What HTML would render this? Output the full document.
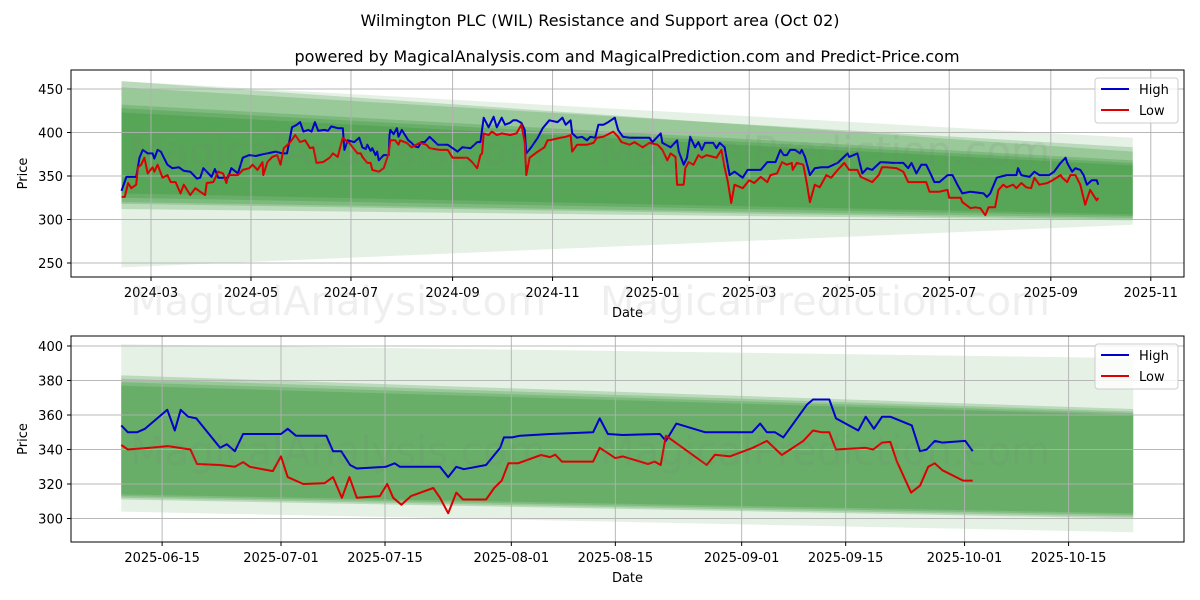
<!DOCTYPE html>
<html><head><meta charset="utf-8"><style>
body{margin:0;background:#fff;width:1200px;height:600px;overflow:hidden}
svg{display:block;font-family:"DejaVu Sans","Liberation Sans",sans-serif}
</style></head><body>
<svg id="chart" width="1200" height="600" viewBox="0 0 1200 600">
<text x="600" y="26" text-anchor="middle" font-size="16" fill="#000">Wilmington PLC (WIL) Resistance and Support area (Oct 02)</text>
<text x="627" y="62" text-anchor="middle" font-size="16" fill="#000">powered by MagicalAnalysis.com and MagicalPrediction.com and Predict-Price.com</text>
<g id="top"></g>
<g id="bot"></g>
<g font-size="40" fill="rgba(120,120,120,0.12)">
<text x="130" y="165">MagicalAnalysis.com</text><text x="600" y="165">MagicalPrediction.com</text>
<text x="130" y="315">MagicalAnalysis.com</text><text x="600" y="315">MagicalPrediction.com</text>
<text x="130" y="465">MagicalAnalysis.com</text><text x="600" y="465">MagicalPrediction.com</text>
</g>
</svg>
<script>
// ---------- TOP CHART DATA (days from 2024-03-01) ----------
const topHighDays=[-18,-15,-9,-7,-5,-2,1,2,4,6,10,13,17,20,24,28,30,32,35,37,39,41,45,47,49,53,56,60,64,68,71,76,80,83,84,86,89,91,93,96,98,100,102,106,108,110,114,117,118,120,124,127,129,131,132,134,135,137,138,139,142,145,145.5,146,148,150,151,153,157,159,161,163,165,167,170,175,181,187,190,195,199,201,203,206,209,211,214,216,219,221,223,226,228,229,232,236,239,243,248,251,253,256,257,260,263,266,268,271,273,276,279,283,285,288,292,304,306,311,312,317,321,322,325,327,329,332,334,336,338,343,345,347,350,353,356,361,364,372,376,381,384,386,388,390,393,396,397,399,402,405,409,413,419,425,426,431,434,437,440,445,453,459,462,464,467,470,473,476,478,481,486,489,492,495,500,508,510,512,516,522,528,529,531,536,539,542,548,551,555,558,559,562,564,567,569,571,574,577,578];
const topHighVals=[333,349,349,371,380,376,376,370,380,378,363,359,360,356,355,347,348,359,353,349,358,348,348,348,359,353,371,374,373,375,376,378,376,376,386,406,409,412,401,403,401,412,402,403,402,407,405,405,380,391,389,394,383,381,386,379,382,374,378,368,374,374,397,403,398,405,395,403,391,388,384,383,389,389,395,386,386,378,383,382,389,389,417,406,418,406,417,409,411,414,414,411,403,376,383,394,405,414,412,417,409,414,399,394,395,391,395,394,409,409,412,417,403,395,394,394,389,399,388,383,391,378,363,371,395,383,389,380,388,388,382,388,383,351,355,348,357,357,366,366,380,374,374,380,380,376,380,372,351,359,360,360,365,376,372,376,353,359,357,366,365,365,359,365,353,363,363,351,343,343,351,351,340,330,332,330,326,330,348,351,351,359,351,349,355,351,351,355,365,371,365,355,359,357,351,340,345,345,340];
const topLowDays=[-18,-16,-14,-12,-9,-8,-6,-4,-2,1,2,4,7,10,12,15,18,20,24,27,30,33,34,38,41,44,46,47,53,54,56,60,62,65,68,68.5,71,74,77,79,81,85,88,91,94,97,99,101,105,109,111,114,115,117,120,121,123,126,128,129,132,134,135,139,142,145,146,149,151,152,156,159,164,168,170,176,181,184,193,196,199,201,202,203,206,208,211,214,219,223,226,228,229,231,236,240,242,243,250,253,256,257,260,266,270,272,276,282,285,287,292,295,300,304,309,312,315,317,320,321,325,326,328,331,334,336,339,343,345,348,350,352,354,356,361,365,368,372,376,378,382,385,388,391,391.5,394,398,400,402,405,408,412,415,419,423,426,431,433,440,444,446,449,455,459,462,473,475,481,486,487,494,495,500,503,506,509,511,515,517,520,522,526,528,531,534,537,539,542,547,550,555,556,559,561,564,567,570,573,577,578];
const topLowVals=[326,326,342,336,340,360,363,371,353,360,355,363,348,351,343,343,330,340,328,336,332,328,342,343,355,353,342,351,351,353,357,359,363,357,366,351,366,372,374,363,382,389,397,389,391,382,383,365,366,371,376,372,380,394,389,388,383,376,376,372,365,365,357,355,359,376,391,391,386,391,388,383,388,386,382,380,380,371,371,366,359,374,376,399,397,401,397,399,397,399,409,389,351,371,378,383,391,391,394,395,397,378,386,386,388,394,395,401,395,389,386,389,383,388,386,380,368,376,372,340,340,359,366,363,374,371,374,372,371,380,360,343,319,340,336,345,342,349,343,351,353,366,363,365,357,365,363,343,320,340,337,351,348,357,365,357,357,349,343,351,360,360,359,355,343,343,332,332,334,325,325,320,313,314,313,305,314,314,334,340,337,340,336,342,337,336,348,340,342,345,351,348,343,351,351,340,317,334,322,325];
const topYTicks=[250,300,350,400,450];
const topXTickDays=[0,61,122,184,245,306,365,426,487,549,610];
const topXTickLabels=["2024-03","2024-05","2024-07","2024-09","2024-11","2025-01","2025-03","2025-05","2025-07","2025-09","2025-11"];
const topBandStart=-18, topBandEnd=599;
const topBands=[[245,459,294,394],[318,459,300,378],[312,452,299,383],[320,432,302,368],[325,428,304,365],[330,423,306,362]];

// ---------- BOTTOM CHART DATA (days from 2025-07-01) ----------
const botHighDays=[-21.5,-20.6,-19.4,-18.3,-15.3,-14.3,-13.5,-12.5,-11.4,-8.2,-7.3,-6.2,-5.1,0,0.9,2,6.1,7,8.1,9.3,10.2,14.1,15.3,16,21.4,22.5,23.6,24.6,27.6,29.5,30,31.1,32.2,36.2,42,42.9,44,46,51,51.8,53.2,57.1,63.4,64.5,65.4,66.5,67.6,70.8,71.6,73.8,74.7,77.7,78.7,79.8,80.9,82,84.9,86,86.9,88,89,92.1,93.1];
const botHighVals=[354,350,350,352,363,351,363,359,358,341,343,339,349,349,352,348,348,339,339,331,329,330,332,330,330,324,330,328.6,331,341,347,347,348,349,350,358,349,348.4,349,345,355,350,350,355,350,350,347,366,369,369,358,351,359,352,359,359,354,339,340,345,344,345,339];
const botLowDays=[-21.5,-20.6,-17.6,-15.2,-12.2,-11.3,-8.2,-6.2,-5.1,-4.2,-1.1,0,0.9,3,5.9,7,8.2,9.2,10.2,13.3,14.3,15.1,16.2,17.5,20.5,21.4,22.5,23.6,24.5,27.6,28.7,29.7,30.6,31.9,35,36.2,36.9,37.8,42,42.9,45,46,49.4,50.3,51.1,51.8,57.3,58.4,60.4,63.5,65.4,67.4,70.3,71.6,72.8,73.8,74.7,78.7,79.7,80.9,82,82.9,84.8,86,87.1,88,89,91.8,93.1];
const botLowVals=[342.6,340,341,342,340,331.6,331,330,332.7,330,327.5,336,324,320,320.5,324,312,324,312,313,320,312,308,313,317.7,312,303,315,311,311,317.7,322,332,332,336.8,335.6,337,333,333,341,335,336,331.6,333,331,348,331,337,336,341,345,336.8,345,351,350,350,340,341,340,344,344.4,333,315,319,330,332,328,322,322];
const botYTicks=[300,320,340,360,380,400];
const botXTickDays=[-16,0,14,31,45,62,76,92,106];
const botXTickLabels=["2025-06-15","2025-07-01","2025-07-15","2025-08-01","2025-08-15","2025-09-01","2025-09-15","2025-10-01","2025-10-15"];
const botBandStart=-21.5, botBandEnd=114.7;
const botBands=[[304,401,292,393],[311,383,300,363.5],[312,381,301,362],[313,379,302,361],[314,377,303,360]];

const NS="http://www.w3.org/2000/svg";
function mk(parent,tag,attrs){const e=document.createElementNS(NS,tag);for(const k in attrs)e.setAttribute(k,attrs[k]);parent.appendChild(e);return e;}

function drawPanel(g,o){
  const L=71,R=1184,T=o.top,B=o.bottom;
  const x=d=>o.x0+d*o.kx, y=v=>o.y0+(o.v0-v)*o.ky;
  mk(g,'rect',{x:L,y:T,width:R-L,height:B-T,fill:'#fff'});
  o.bands.forEach((b,i)=>{
    const xs=x(o.bs),xe=x(o.be);
    const p=mk(g,'polygon',{points:`${xs},${y(b[1])} ${xe},${y(b[3])} ${xe},${y(b[2])} ${xs},${y(b[0])}`,fill:'rgb(20,130,20)','fill-opacity':i==0?0.11:0.2});
    
    
  });
  o.yt.forEach(v=>{
    const l=mk(g,'line',{x1:L,x2:R,y1:y(v),y2:y(v),stroke:'#b0b0b0','stroke-width':1,'stroke-opacity':0.9});
    
    
    mk(g,'line',{x1:L-4,x2:L,y1:y(v),y2:y(v),stroke:'#000','stroke-width':1});
    const t=mk(g,'text',{x:L-8,y:y(v)+5,'text-anchor':'end','font-size':13,fill:'#000'});t.textContent=v;
    
    
  });
  o.xt.forEach((d,i)=>{
    const l=mk(g,'line',{x1:x(d),x2:x(d),y1:T,y2:B,stroke:'#b0b0b0','stroke-width':1,'stroke-opacity':0.9});
    
    
    mk(g,'line',{x1:x(d),x2:x(d),y1:B,y2:B+4,stroke:'#000','stroke-width':1});
    const t=mk(g,'text',{x:x(d),y:B+20,'text-anchor':'middle','font-size':13,fill:'#000'});t.textContent=o.xl[i];
    
    
  });
  const path=(ds,vs)=>ds.map((d,i)=>(i?'L':'M')+x(d).toFixed(1)+','+y(vs[i]).toFixed(1)).join('');
  const hi=mk(g,'path',{d:path(o.hd,o.hv),fill:'none',stroke:'#0000cc','stroke-width':2,'stroke-linejoin':'round'});
  
  
  const lo=mk(g,'path',{d:path(o.ld,o.lv),fill:'none',stroke:'#dd0000','stroke-width':2,'stroke-linejoin':'round'});
  
  
  mk(g,'rect',{x:L,y:T,width:R-L,height:B-T,fill:'none',stroke:'#000','stroke-width':1});
  const yl=mk(g,'text',{x:0,y:0,transform:`translate(${o.ylx},${(T+B)/2}) rotate(-90)`,'text-anchor':'middle','font-size':13});yl.textContent='Price';
  
  
  const xlab=mk(g,'text',{x:(L+R)/2,y:B+40,'text-anchor':'middle','font-size':13});xlab.textContent='Date';
  
  
  const lg=mk(g,'g',{});
  
  
  mk(lg,'rect',{x:1095,y:T+8,width:83,height:45,rx:3,fill:'#fff','fill-opacity':0.8,stroke:'#ccc'});
  mk(lg,'line',{x1:1101,x2:1129,y1:T+19,y2:T+19,stroke:'#0000cc','stroke-width':2});
  const t1=mk(lg,'text',{x:1139,y:T+24,'font-size':13});t1.textContent='High';
  
  
  mk(lg,'line',{x1:1101,x2:1129,y1:T+40,y2:T+40,stroke:'#dd0000','stroke-width':2});
  const t2=mk(lg,'text',{x:1139,y:T+45,'font-size':13});t2.textContent='Low';
  
  
}
drawPanel(document.getElementById('top'),{top:70,bottom:277,x0:151,kx:1.639,y0:89,v0:450,ky:0.87,
  bands:topBands,bs:topBandStart,be:topBandEnd,yt:topYTicks,xt:topXTickDays,xl:topXTickLabels,
  hd:topHighDays,hv:topHighVals,ld:topLowDays,lv:topLowVals,ylx:27});
drawPanel(document.getElementById('bot'),{top:336,bottom:542,x0:281,kx:7.43,y0:346,v0:400,ky:1.725,
  bands:botBands,bs:botBandStart,be:botBandEnd,yt:botYTicks,xt:botXTickDays,xl:botXTickLabels,
  hd:botHighDays,hv:botHighVals,ld:botLowDays,lv:botLowVals,ylx:27});
</script>
</body></html>
